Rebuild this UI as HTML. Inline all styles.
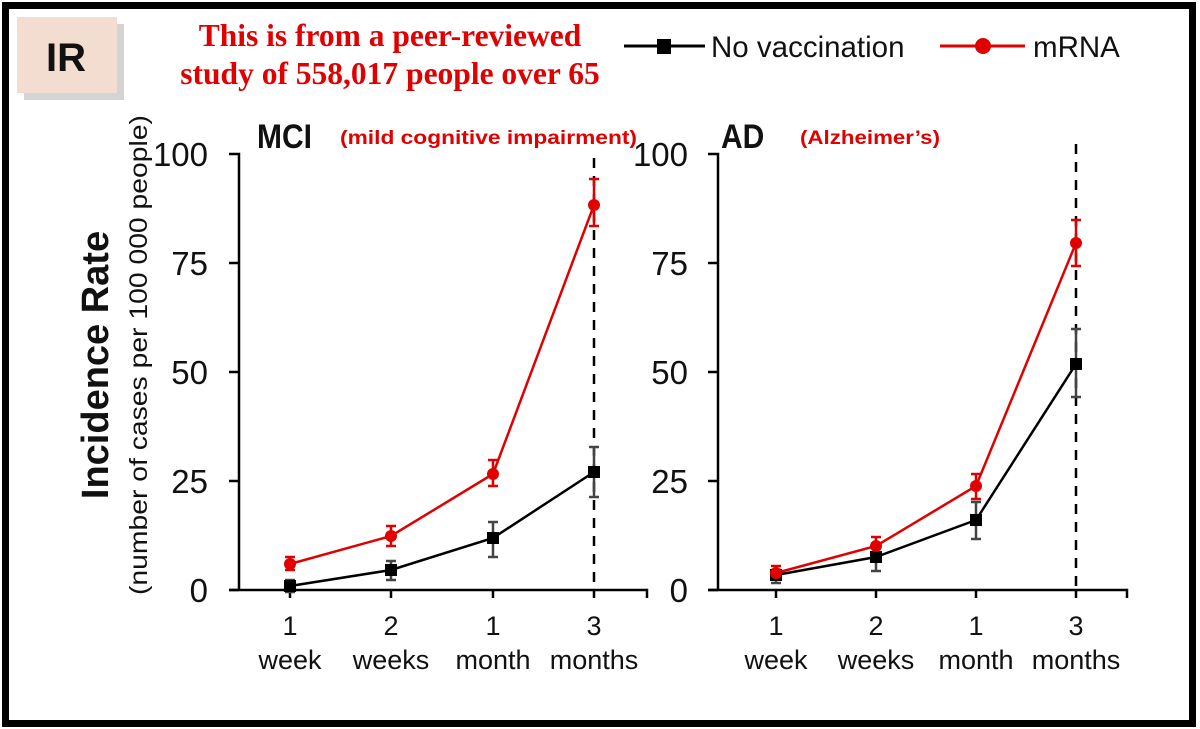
<!DOCTYPE html>
<html><head><meta charset="utf-8"><style>
html,body{margin:0;padding:0;background:#fff}
svg{display:block}
</style></head><body>
<svg width="1200" height="729" viewBox="0 0 1200 729" xmlns="http://www.w3.org/2000/svg" font-family="Liberation Sans, Arial, sans-serif">
<rect x="0" y="0" width="1200" height="729" fill="#fff"/>
<rect x="5.5" y="5.5" width="1187" height="718" fill="none" stroke="#000" stroke-width="7"/>
<!-- IR box -->
<rect x="24" y="24" width="100" height="76" fill="#aaa" opacity="0.5"/>
<rect x="17" y="17" width="100" height="76" fill="#f2ddd0"/>
<text x="66" y="71" font-size="40" font-weight="bold" text-anchor="middle" fill="#111">IR</text>
<!-- headline -->
<text x="390" y="46" font-family="Liberation Serif, serif" font-weight="bold" font-size="31.5" fill="#e00000" text-anchor="middle">This is from a peer-reviewed</text>
<text x="390" y="84" font-family="Liberation Serif, serif" font-weight="bold" font-size="31.5" fill="#e00000" text-anchor="middle">study of 558,017 people over 65</text>
<!-- legend -->
<line x1="624" y1="46" x2="705" y2="46" stroke="#000" stroke-width="3"/>
<rect x="657" y="39" width="14" height="15" fill="#000"/>
<text x="711" y="57" font-size="29.5" fill="#111">No vaccination</text>
<line x1="940" y1="46" x2="1025" y2="46" stroke="#e00000" stroke-width="3"/>
<circle cx="983" cy="46" r="8" fill="#e00000"/>
<text x="1033" y="57" font-size="29.5" fill="#111">mRNA</text>
<!-- y labels -->
<text transform="translate(108,365) rotate(-90)" font-size="38" font-weight="bold" text-anchor="middle" fill="#111">Incidence Rate</text>
<text transform="translate(147,355) rotate(-90)" font-size="25" text-anchor="middle" fill="#111" textLength="480" lengthAdjust="spacingAndGlyphs">(number of cases per 100 000 people)</text>

<!-- LEFT CHART -->
<g stroke="#000" stroke-width="2.5" fill="none">
<path d="M229,154 H239 V590 M229,263 H239 M229,372 H239 M229,481 H239 M229,590 H239"/>
<path d="M229,590 H647 V598 M290,590 v8 M391,590 v8 M493,590 v8 M594,590 v8"/>
</g>
<line x1="594" y1="158" x2="594" y2="590" stroke="#000" stroke-width="2.5" stroke-dasharray="10,8"/>
<g font-size="33" fill="#111" text-anchor="end">
<text x="208" y="166">100</text><text x="208" y="275">75</text><text x="208" y="384">50</text><text x="208" y="493">25</text><text x="208" y="602">0</text>
</g>
<g font-size="27" fill="#111" text-anchor="middle">
<text x="290" y="635">1</text><text x="391" y="635">2</text><text x="493" y="635">1</text><text x="594" y="635">3</text>
<text x="290" y="669">week</text><text x="391" y="669">weeks</text><text x="493" y="669">month</text><text x="594" y="669">months</text>
</g>
<text transform="translate(257,148) scale(1,1.15)" font-size="30" font-weight="bold" fill="#111">MCI</text>
<text x="340" y="144" font-size="19" font-weight="bold" fill="#e00000" textLength="297" lengthAdjust="spacingAndGlyphs">(mild cognitive impairment)</text>
<!-- error bars left -->
<g stroke="#444" stroke-width="2.5">
<path d="M290,580 V592 M285,580h10 M285,592h10"/>
<path d="M391,561 V580 M386,561h10 M386,580h10"/>
<path d="M493,522 V557 M488,522h10 M488,557h10"/>
<path d="M594,447 V497 M589,447h10 M589,497h10"/>
</g>
<g stroke="#e00000" stroke-width="2.5">
<path d="M290,557 V570 M285,557h10 M285,570h10"/>
<path d="M391,526 V546 M386,526h10 M386,546h10"/>
<path d="M493,460 V486 M488,460h10 M488,486h10"/>
<path d="M594,179 V226 M589,179h10 M589,226h10"/>
</g>
<polyline points="290,586 391,570 493,538 594,472" fill="none" stroke="#000" stroke-width="2.5"/>
<g fill="#000"><rect x="284" y="580" width="12" height="12"/><rect x="385" y="564" width="12" height="12"/><rect x="487" y="532" width="12" height="12"/><rect x="588" y="466" width="12" height="12"/></g>
<polyline points="290,564 391,536 493,474 594,205" fill="none" stroke="#e00000" stroke-width="2.5"/>
<g fill="#e00000"><circle cx="290" cy="564" r="6"/><circle cx="391" cy="536" r="6"/><circle cx="493" cy="474" r="6"/><circle cx="594" cy="205" r="6"/></g>

<!-- RIGHT CHART -->
<g stroke="#000" stroke-width="2.5" fill="none">
<path d="M708,154 H718 V590 M708,263 H718 M708,372 H718 M708,481 H718 M708,590 H718"/>
<path d="M708,590 H1127 V598 M776,590 v8 M876,590 v8 M976,590 v8 M1076,590 v8"/>
</g>
<line x1="1076" y1="144" x2="1076" y2="590" stroke="#000" stroke-width="2.5" stroke-dasharray="10,8"/>
<g font-size="33" fill="#111" text-anchor="end">
<text x="688" y="166">100</text><text x="688" y="275">75</text><text x="688" y="384">50</text><text x="688" y="493">25</text><text x="688" y="602">0</text>
</g>
<g font-size="27" fill="#111" text-anchor="middle">
<text x="776" y="635">1</text><text x="876" y="635">2</text><text x="976" y="635">1</text><text x="1076" y="635">3</text>
<text x="776" y="669">week</text><text x="876" y="669">weeks</text><text x="976" y="669">month</text><text x="1076" y="669">months</text>
</g>
<text transform="translate(721,148) scale(1,1.15)" font-size="30" font-weight="bold" fill="#111">AD</text>
<text x="800" y="144" font-size="19" font-weight="bold" fill="#e00000" textLength="140" lengthAdjust="spacingAndGlyphs">(Alzheimer’s)</text>
<g stroke="#444" stroke-width="2.5">
<path d="M776,570 V583 M771,570h10 M771,583h10"/>
<path d="M876,547 V571 M871,547h10 M871,571h10"/>
<path d="M976,502 V539 M971,502h10 M971,539h10"/>
<path d="M1076,329 V397 M1071,329h10 M1071,397h10"/>
</g>
<g stroke="#e00000" stroke-width="2.5">
<path d="M776,566 V579 M771,566h10 M771,579h10"/>
<path d="M876,537 V556 M871,537h10 M871,556h10"/>
<path d="M976,474 V499 M971,474h10 M971,499h10"/>
<path d="M1076,220 V266 M1071,220h10 M1071,266h10"/>
</g>
<polyline points="776,575 876,557 976,520 1076,364" fill="none" stroke="#000" stroke-width="2.5"/>
<g fill="#000"><rect x="770" y="569" width="12" height="12"/><rect x="870" y="551" width="12" height="12"/><rect x="970" y="514" width="12" height="12"/><rect x="1070" y="358" width="12" height="12"/></g>
<polyline points="776,573 876,546 976,486 1076,243" fill="none" stroke="#e00000" stroke-width="2.5"/>
<g fill="#e00000"><circle cx="776" cy="573" r="6"/><circle cx="876" cy="546" r="6"/><circle cx="976" cy="486" r="6"/><circle cx="1076" cy="243" r="6"/></g>
</svg>
</body></html>
